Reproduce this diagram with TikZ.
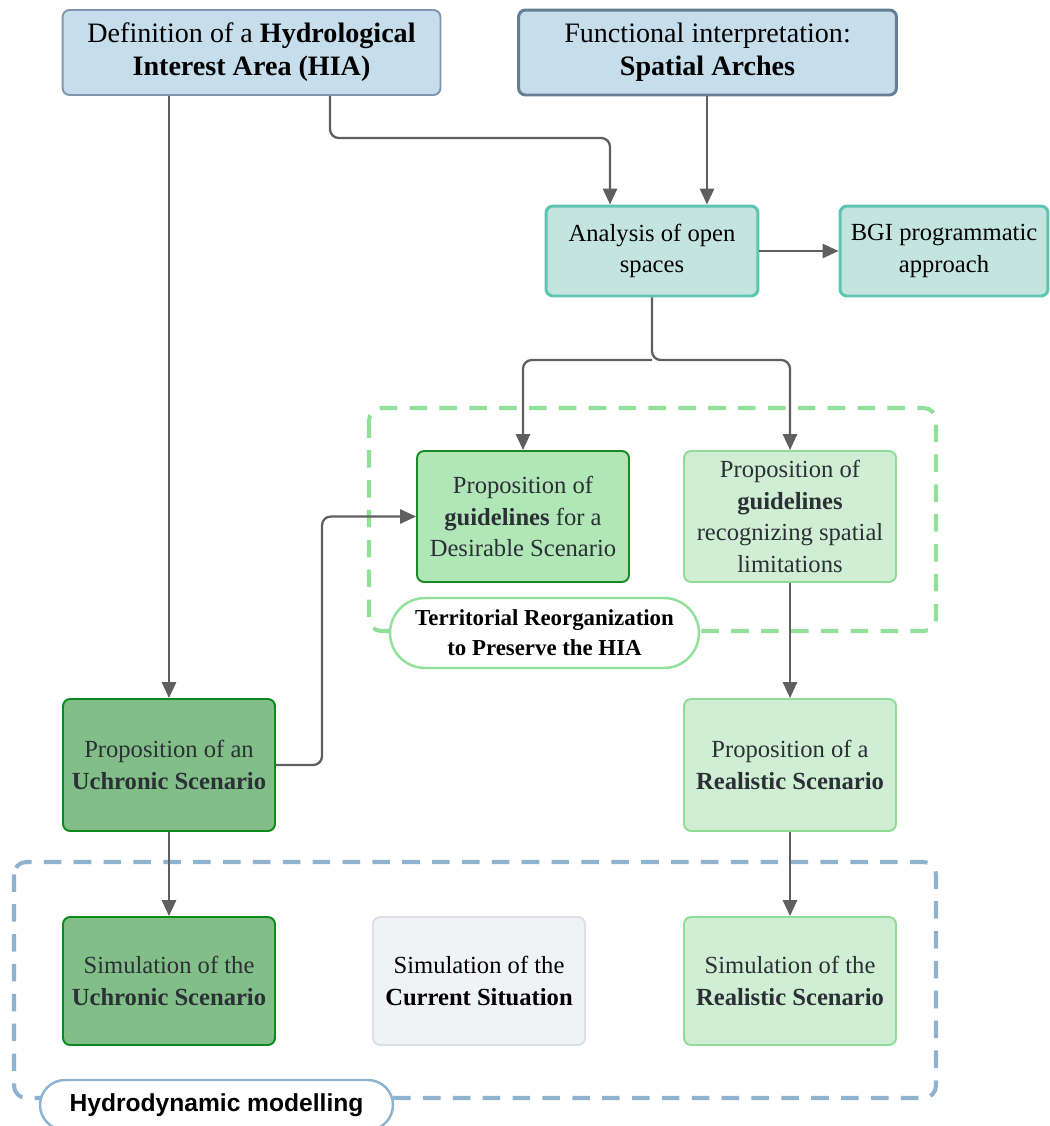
\documentclass[tikz,border=0pt]{standalone}
\usepackage{fontspec}
\setmainfont{Liberation Serif}
\setsansfont{Liberation Sans}
\usepackage{xcolor}
\usepackage{tikz}
\usetikzlibrary{arrows.meta}

\definecolor{topfill}{HTML}{C6DDEC}
\definecolor{topline}{HTML}{7F98AD}
\definecolor{arcline}{HTML}{647F95}
\definecolor{tealfill}{HTML}{C4E5DF}
\definecolor{tealline}{HTML}{5EC4B2}
\definecolor{desfill}{HTML}{B1E6B6}
\definecolor{desline}{HTML}{1A8A26}
\definecolor{lightfill}{HTML}{D0EED3}
\definecolor{lightline}{HTML}{8EDC95}
\definecolor{uchfill}{HTML}{82BE88}
\definecolor{uchline}{HTML}{0C8A1C}
\definecolor{curfill}{HTML}{F0F2F5}
\definecolor{curline}{HTML}{DCE0E6}
\definecolor{arrgrey}{HTML}{5F5F5F}
\definecolor{greendash}{HTML}{91E19B}
\definecolor{bluedash}{HTML}{8FB3CF}
\definecolor{txtgrey}{HTML}{2B3036}

\tikzstyle{box} = [draw, rectangle, rounded corners=4pt, line width=1.1pt,
   align=center, inner sep=0pt, minimum width=4.24cm, text=txtgrey,
   font=\fontsize{14}{18}\selectfont]
\tikzstyle{topBox} = [box, fill=topfill, draw=topline, minimum width=7.56cm,
   minimum height=1.7cm, text=black, font=\fontsize{16}{18.7}\selectfont]
\tikzstyle{flowArrow} = [draw=arrgrey, line width=1.3pt, rounded corners=5pt,
   -{Triangle[length=9pt,width=8pt]}]
\tikzstyle{frame} = [line width=2.3pt, dash pattern=on 10pt off 7pt, rounded corners=7pt]
\tikzstyle{tag} = [draw, fill=white, line width=1.4pt, align=center, inner sep=0pt, text=black]

\begin{document}
\begin{tikzpicture}[x=0.02cm, y=-0.02cm]
  \useasboundingbox (0,0) rectangle (1049,1126);

  \draw[frame, draw=greendash] (369,408) rectangle (936,631);
  \draw[frame, draw=bluedash] (14,862) rectangle (936,1098);

  \node[topBox] at (251.5,52.5)(hia){Definition of a \textbf{Hydrological}\\\textbf{Interest Area (HIA)}};
  \node[topBox, draw=arcline, line width=1.7pt] at (707.5,52.5)(arc){Functional interpretation:\\\textbf{Spatial Arches}};
  \node[box, fill=tealfill, draw=tealline, line width=1.7pt, minimum height=1.8cm, text=black] at (652,251)(ana){Analysis of open\\spaces};
  \node[box, fill=tealfill, draw=tealline, line width=1.7pt, minimum height=1.8cm, minimum width=4.16cm, text=black] at (944,251)(bgi){BGI programmatic\\approach};
  \node[box, fill=desfill, draw=desline, minimum height=2.62cm] at (523,516.5)(des){Proposition of\\\textbf{guidelines} for a\\Desirable Scenario};
  \node[box, fill=lightfill, draw=lightline, minimum height=2.62cm] at (790,516.5)(rec){Proposition of\\\textbf{guidelines}\\recognizing spatial\\limitations};
  \node[box, fill=uchfill, draw=uchline, minimum height=2.64cm] at (169,765)(uch){Proposition of an\\\textbf{Uchronic Scenario}};
  \node[box, fill=lightfill, draw=lightline, minimum height=2.64cm] at (790,765)(rea){Proposition of a\\\textbf{Realistic Scenario}};
  \node[box, fill=uchfill, draw=uchline, minimum height=2.56cm] at (169,981)(su){Simulation of the\\\textbf{Uchronic Scenario}};
  \node[box, fill=curfill, draw=curline, minimum height=2.56cm, text=black] at (479,981)(sc){Simulation of the\\\textbf{Current Situation}};
  \node[box, fill=lightfill, draw=lightline, minimum height=2.56cm] at (790,981)(sr){Simulation of the\\\textbf{Realistic Scenario}};

  \node[tag, draw=greendash, minimum width=6.18cm, minimum height=1.4cm, rounded corners=0.7cm,
     font=\bfseries\fontsize{13}{17}\selectfont] at (544.5,633)(tro){Territorial Reorganization\\to Preserve the HIA};
  \node[tag, draw=bluedash, minimum width=7.06cm, minimum height=1.0cm, rounded corners=0.5cm,
     font=\sffamily\bfseries\fontsize{14}{16}\selectfont] at (216.5,1105)(hyd){Hydrodynamic modelling};

  \coordinate (k1) at (610,138);
  \coordinate (k2) at (0,360);
  \coordinate (k3) at (322,0);

  \draw[flowArrow] (hia.south -| uch.north) -- (uch.north);
  \draw[flowArrow] (hia.south -| 330,0) |- (k1) -- (k1 |- ana.north);
  \draw[flowArrow] (arc.south -| 707,0) -- (ana.north -| 707,0);
  \draw[flowArrow] (ana.east) -- (bgi.west);
  \draw[flowArrow] (ana.south |- k2) -| (des.north);
  \draw[flowArrow] (ana.south) -- (ana.south |- k2) -| (rec.north);
  \draw[flowArrow] (uch.east) -- (uch.east -| k3) |- (des.west);
  \draw[flowArrow] (rec.south) -- (rea.north);
  \draw[flowArrow] (uch.south) -- (su.north);
  \draw[flowArrow] (rea.south) -- (sr.north);
\end{tikzpicture}
\end{document}
